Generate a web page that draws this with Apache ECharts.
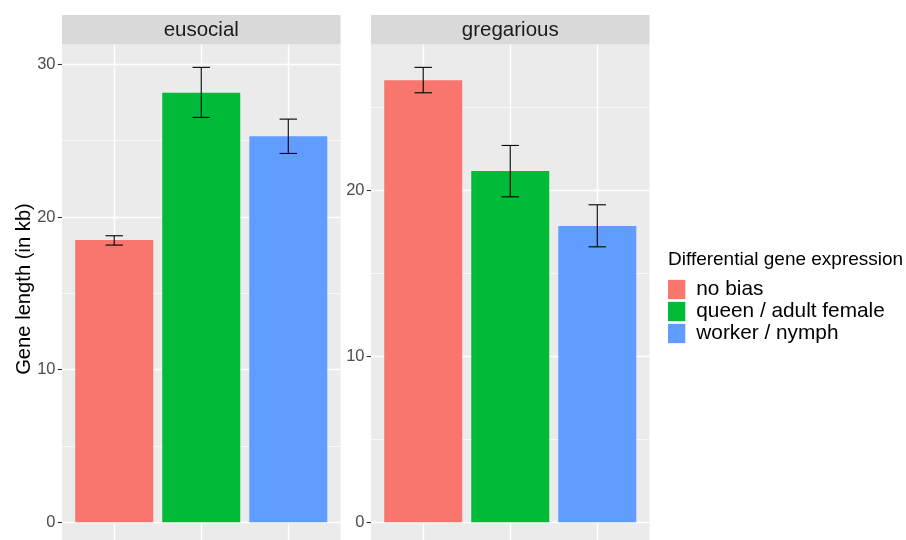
<!DOCTYPE html>
<html>
<head>
<meta charset="utf-8">
<script src="https://cdn.jsdelivr.net/npm/echarts@6/dist/echarts.min.js"></script>
<style>
html,body{margin:0;padding:0;background:#fff;overflow:hidden;}
#chart{width:906px;height:550px;}
</style>
</head>
<body>
<div id="chart"></div>
<script>
// ---- data ----
const categories = ['no bias', 'queen / adult female', 'worker / nymph'];
const facets = ['eusocial', 'gregarious'];
const eusocialMean  = [18.49, 28.13, 25.28];
const eusocialLower = [18.16, 26.52, 24.16];
const eusocialUpper = [18.77, 29.80, 26.41];
const gregariousMean  = [26.61, 21.14, 17.83];
const gregariousLower = [25.85, 19.59, 16.58];
const gregariousUpper = [27.38, 22.68, 19.11];
const eusocialTicks = [0, 10, 20, 30];
const eusocialMinor = [5, 15, 25];
const gregariousTicks = [0, 10, 20];
const gregariousMinor = [5, 15, 25];
const legendTitle = 'Differential gene expression';
const yTitle = 'Gene length (in kb)';

// ---- style ----
const palette = ['#F8766D', '#00BA38', '#619CFF'];
const FONT = "'Liberation Sans', Arial, sans-serif";
const panelLeft = [62, 371];
const panelWidth = 278.5;
const panelTop = 44.6;
const panelHeight = 500.5;
const stripTop = 15;

const means = [eusocialMean, gregariousMean];
const lowers = [eusocialLower, gregariousLower];
const uppers = [eusocialUpper, gregariousUpper];
const ticks = [eusocialTicks, gregariousTicks];
const minors = [eusocialMinor, gregariousMinor];

const grids = [], xAxes = [], yAxes = [], series = [], graphics = [];

facets.forEach(function (facet, f) {
  grids.push({
    left: panelLeft[f], top: panelTop, width: panelWidth, height: panelHeight,
    show: true, backgroundColor: '#EBEBEB', borderWidth: 0, containLabel: false
  });
  const hi = Math.max.apply(null, uppers[f]);
  const span = hi - 0;
  xAxes.push({
    type: 'value', gridIndex: f, min: 0.4, max: 3.6,
    axisLine: {show: false}, axisTick: {show: false}, axisLabel: {show: false},
    splitLine: {show: false}
  });
  yAxes.push({
    type: 'value', gridIndex: f, min: 0 - 0.05 * span, max: hi + 0.05 * span,
    axisLine: {show: false},
    axisTick: {show: true, customValues: ticks[f], length: 4.3, lineStyle: {color: '#333333', width: 1.1}},
    axisLabel: {show: true, customValues: ticks[f], margin: 6.5, color: '#4D4D4D', fontSize: 16.5, fontFamily: FONT},
    splitLine: {show: false}
  });
  categories.forEach(function (cat, i) {
    series.push({
      type: 'bar', name: cat, xAxisIndex: f, yAxisIndex: f,
      data: [[i + 1, means[f][i]]],
      barWidth: 78, barGap: '-100%', z: 2,
      itemStyle: {color: palette[i]},
      emphasis: {disabled: true}
    });
  });
  const gridLines = [];
  ticks[f].forEach(function (v) { gridLines.push({yAxis: v, lineStyle: {color: '#FFFFFF', width: 1.4, type: 'solid'}}); });
  minors[f].forEach(function (v) { gridLines.push({yAxis: v, lineStyle: {color: '#FFFFFF', width: 0.7, type: 'solid'}}); });
  categories.forEach(function (c, i) { gridLines.push({xAxis: i + 1, lineStyle: {color: '#FFFFFF', width: 1.4, type: 'solid'}}); });
  series.push({
    type: 'custom', name: 'err' + f, xAxisIndex: f, yAxisIndex: f, z: 3,
    data: categories.map(function (c, i) { return [i + 1, lowers[f][i], uppers[f][i]]; }),
    encode: {x: 0, y: [1, 2]},
    renderItem: function (params, api) {
      const x = api.value(0), lo = api.value(1), up = api.value(2);
      const t = api.coord([x, up]), b = api.coord([x, lo]);
      const tl = api.coord([x - 0.1, up]), tr = api.coord([x + 0.1, up]);
      const bl = api.coord([x - 0.1, lo]), br = api.coord([x + 0.1, lo]);
      const st = {stroke: '#000000', lineWidth: 1.1};
      return {type: 'group', children: [
        {type: 'line', shape: {x1: t[0], y1: t[1], x2: b[0], y2: b[1]}, style: st},
        {type: 'line', shape: {x1: tl[0], y1: tl[1], x2: tr[0], y2: tr[1]}, style: st},
        {type: 'line', shape: {x1: bl[0], y1: bl[1], x2: br[0], y2: br[1]}, style: st}
      ]};
    },
    markLine: {silent: true, symbol: 'none', z: 1, animation: false, label: {show: false}, data: gridLines}
  });
  graphics.push({
    type: 'rect', left: panelLeft[f], top: stripTop,
    shape: {x: 0, y: 0, width: panelWidth, height: panelTop - stripTop},
    style: {fill: '#D9D9D9'}
  });
  graphics.push({
    type: 'text', x: panelLeft[f] + panelWidth / 2, y: (stripTop + panelTop) / 2 + 0.5,
    style: {text: facet, align: 'center', verticalAlign: 'middle', fontSize: 20.5, fontFamily: FONT, fill: '#1A1A1A'}
  });
});

graphics.push({
  type: 'text', x: 24, y: 289, rotation: Math.PI / 2,
  style: {text: yTitle, align: 'center', verticalAlign: 'middle', fontSize: 20.2, fontFamily: FONT, fill: '#000000'}
});
graphics.push({
  type: 'text', x: 668, y: 260,
  style: {text: legendTitle, align: 'left', verticalAlign: 'middle', fontSize: 19, fontFamily: FONT, fill: '#000000'}
});

const chart = echarts.init(document.getElementById('chart'));
chart.setOption({
  animation: false,
  backgroundColor: '#FFFFFF',
  grid: grids,
  xAxis: xAxes,
  yAxis: yAxes,
  legend: {
    data: categories, orient: 'vertical', left: 668, top: 279, padding: 0,
    itemWidth: 17.3, itemHeight: 19.3, itemGap: 1, icon: 'rect',
    selectedMode: false,
    textStyle: {fontSize: 20.8, fontFamily: FONT, color: '#000000', lineHeight: 19.3, padding: [0, 0, 0, 6]}
  },
  graphic: graphics,
  series: series
});
</script>
</body>
</html>
